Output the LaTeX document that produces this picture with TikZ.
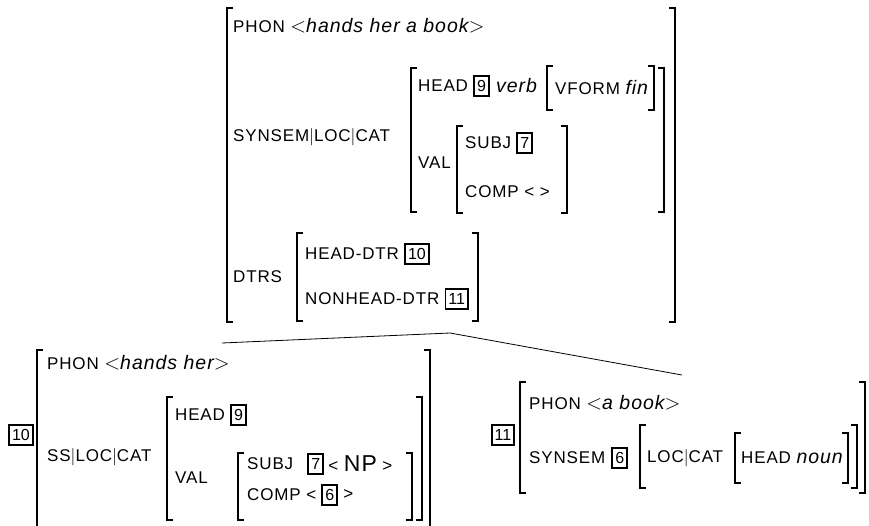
\documentclass[tikz,border=0pt]{standalone}
\usepackage{fontspec}
\setmainfont{Liberation Sans}
\newfontfamily\featfont[LetterSpace=5]{Liberation Sans}
\usetikzlibrary{positioning}

\newcommand{\vl}[1]{{\fontsize{19.5}{22}\selectfont\itshape #1}}
\newcommand{\pth}{$|$}
% left x, right x, top y, bottom y
\newcommand{\avmbrk}[4]{%
  \draw[brk] (#1+6,#3) -- (#1,#3) -- (#1,#4) -- (#1+6,#4);
  \draw[brk] (#2-6,#3) -- (#2,#3) -- (#2,#4) -- (#2-6,#4);}

\begin{document}
\begin{tikzpicture}[x=1pt, y=-1pt, node distance=5pt,
  feat/.style={font=\featfont\fontsize{17}{20}\selectfont, inner sep=0pt, anchor=west},
  tag/.style={draw, line width=1.8pt, font=\fontsize{16}{16}\selectfont, inner xsep=3pt, inner ysep=0pt, minimum height=20pt},
  brk/.style={line width=1.5pt}]
  \clip (0,0) rectangle (869,525);

  % mother
  \node[feat] (phon) at (233,26) {PHON \vl{$<$hands her a book$>$}};
  \node[feat] (ss) at (233,137) {SYNSEM\pth LOC\pth CAT};
  \node[feat] (head) at (418,86) {HEAD};
  \node[tag, right=5pt of head] (t9) {9};
  \node[feat, right=6pt of t9] (verb) {\vl{verb}};
  \node[feat] (vform) at (555,88) {VFORM \vl{fin}};
  \node[feat] (val) at (418,163) {VAL};
  \node[feat] (subj) at (465,143) {SUBJ};
  \node[tag, right=5pt of subj] (t7) {7};
  \node[feat] (comp) at (465,192) {COMP < >};
  \node[feat] (dtrs) at (233,277) {DTRS};
  \node[feat] (hdtr) at (305,254) {HEAD-DTR};
  \node[tag, right=5pt of hdtr] (t10) {10};
  \node[feat] (nhdtr) at (305,299) {NONHEAD-DTR};
  \node[tag, right=5pt of nhdtr] (t11) {11};

  \avmbrk{227}{675}{8}{322}
  \avmbrk{411}{664}{68}{212}
  \avmbrk{547}{654}{66}{110}
  \avmbrk{457}{567}{126}{213}
  \avmbrk{297}{478}{233}{321}

  % branches
  \coordinate (apex) at (450,333);
  \coordinate (lend) at (222,343);
  \coordinate (rend) at (682,375);
  \draw[line width=0.8pt] (lend) -- (apex) -- (rend);

  % head daughter
  \node[tag] (l10) at (21,435) {10};
  \node[feat] (phon2) at (47,363) {PHON \vl{$<$hands her$>$}};
  \node[feat] (ss2) at (47,457) {SS\pth LOC\pth CAT};
  \node[feat] (head2) at (175,415) {HEAD};
  \node[tag, right=5pt of head2] (t9b) {9};
  \node[feat] (val2) at (175,478) {VAL};
  \node[feat] (subj2) at (247,464) {SUBJ};
  \node[tag, right=14pt of subj2] (t7b) {7};
  \node[feat, right=4pt of t7b] (np) {< {\fontsize{23}{25}\selectfont NP} >};
  \node[feat] (comp2) at (247,495) {COMP <};
  \node[tag, right=5pt of comp2] (t6b) {6};
  \node[feat, right=5pt of t6b] (gt) {>};

  \avmbrk{37}{430}{350}{540}
  \avmbrk{167}{422}{397}{520}
  \avmbrk{238}{412}{453}{520}

  % non-head daughter
  \node[tag] (l11) at (503,435) {11};
  \node[feat] (phon3) at (529,403) {PHON \vl{$<$a book$>$}};
  \node[feat] (syn3) at (529,458) {SYNSEM};
  \node[tag, right=6pt of syn3] (t6) {6};
  \node[feat] (lc3) at (647,458) {LOC\pth CAT};
  \node[feat] (head3) at (741,458) {HEAD \vl{noun}};

  \avmbrk{520}{865}{382}{493}
  \avmbrk{640}{857}{425}{488}
  \avmbrk{735}{848}{433}{483}
\end{tikzpicture}
\end{document}
